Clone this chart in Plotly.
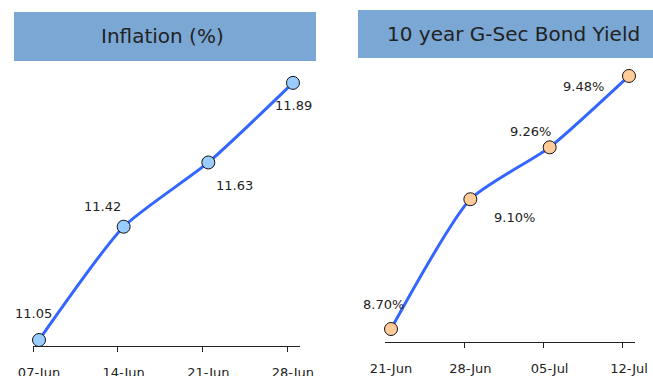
import plotly.graph_objects as go

W, H = 653, 376

# ---- data ----
infl_dates = ["07-Jun", "14-Jun", "21-Jun", "28-Jun"]
infl_values = [11.05, 11.42, 11.63, 11.89]
infl_labels = ["11.05", "11.42", "11.63", "11.89"]

bond_dates = ["21-Jun", "28-Jun", "05-Jul", "12-Jul"]
bond_values = [8.70, 9.10, 9.26, 9.48]
bond_labels = ["8.70%", "9.10%", "9.26%", "9.48%"]

# label offsets (px) relative to points
infl_offsets = [(-6, 27), (-21, 20), (26, -23), (1, -23)]
bond_offsets = [(-7, 25), (44, -18), (-19, 16), (-46, -11)]

LINE = "#3366FF"
FONT = "DejaVu Sans"
TXT = "#222222"

fig = go.Figure()
xi = list(range(len(infl_dates)))
xb = list(range(len(bond_dates)))

fig.add_trace(go.Scatter(
    x=xi, y=infl_values, mode="lines+markers", xaxis="x", yaxis="y",
    line=dict(color=LINE, width=3, shape="spline", smoothing=0.6),
    marker=dict(size=13, color="#99CCFF", line=dict(color="#111111", width=1)),
    cliponaxis=False, hoverinfo="skip", showlegend=False))
fig.add_trace(go.Scatter(
    x=xb, y=bond_values, mode="lines+markers", xaxis="x2", yaxis="y2",
    line=dict(color=LINE, width=3, shape="spline", smoothing=0.6),
    marker=dict(size=13, color="#FFCC99", line=dict(color="#111111", width=1)),
    cliponaxis=False, hoverinfo="skip", showlegend=False))

annots = []
for x, y, t, (dx, dy) in zip(xi, infl_values, infl_labels, infl_offsets):
    annots.append(dict(x=x, y=y, xref="x", yref="y", text=t, showarrow=False,
                       xshift=dx, yshift=dy, font=dict(family=FONT, size=13, color=TXT)))
for x, y, t, (dx, dy) in zip(xb, bond_values, bond_labels, bond_offsets):
    annots.append(dict(x=x, y=y, xref="x2", yref="y2", text=t, showarrow=False,
                       xshift=dx, yshift=dy, font=dict(family=FONT, size=13, color=TXT)))

# title boxes
def px(x): return x / W
def py(y): return 1 - y / H

annots.append(dict(x=px(162), y=py(36), xref="paper", yref="paper", text="Inflation (%)",
                   xanchor="center", yanchor="middle",
                   showarrow=False, font=dict(family=FONT, size=20, color=TXT)))
annots.append(dict(x=px(513), y=py(34), xref="paper", yref="paper", text="10 year G-Sec Bond Yield",
                   xanchor="center", yanchor="middle",
                   showarrow=False, font=dict(family=FONT, size=20, color=TXT)))

shapes = [
    dict(type="rect", xref="paper", yref="paper", x0=px(14), x1=px(316), y0=py(61), y1=py(12),
         fillcolor="#7BA7D4", line=dict(width=0), layer="below"),
    dict(type="rect", xref="paper", yref="paper", x0=px(358), x1=px(653), y0=py(58), y1=py(10),
         fillcolor="#7BA7D4", line=dict(width=0), layer="below"),
]

def xaxis(dom, rng, dates, off):
    n = len(dates)
    return dict(domain=dom, range=rng, showgrid=False, zeroline=False,
                showline=True, linecolor="#222222", linewidth=1,
                tickmode="array", tickvals=list(range(n)), ticktext=dates,
                ticks="", ticklabelstandoff=14,
                tickfont=dict(family=FONT, size=13, color=TXT),
                minor=dict(tickmode="array", tickvals=[i - off for i in range(n)],
                           ticks="outside", ticklen=5, tickcolor="#222222", tickwidth=1, showgrid=False),
                automargin=False, fixedrange=True)

fig.update_layout(
    width=W, height=H, margin=dict(l=0, r=0, t=0, b=0),
    paper_bgcolor="white", plot_bgcolor="white",
    xaxis=xaxis([px(33), px(300)], [-0.071, 3.083], infl_dates, 0.07),
    yaxis=dict(domain=[py(346), py(70)], range=[11.0304, 11.932], visible=False, fixedrange=True),
    xaxis2=xaxis([px(385), px(635)], [-0.0756, 3.0756], bond_dates, 0.076),
    yaxis2=dict(domain=[py(342), py(66)], range=[8.66, 9.5107], visible=False, anchor="x2", fixedrange=True),
    annotations=annots, shapes=shapes, showlegend=False,
)
fig.data[1].update(xaxis="x2", yaxis="y2")
fig.layout.xaxis2.anchor = "y2"

fig.write_html("out.html")
